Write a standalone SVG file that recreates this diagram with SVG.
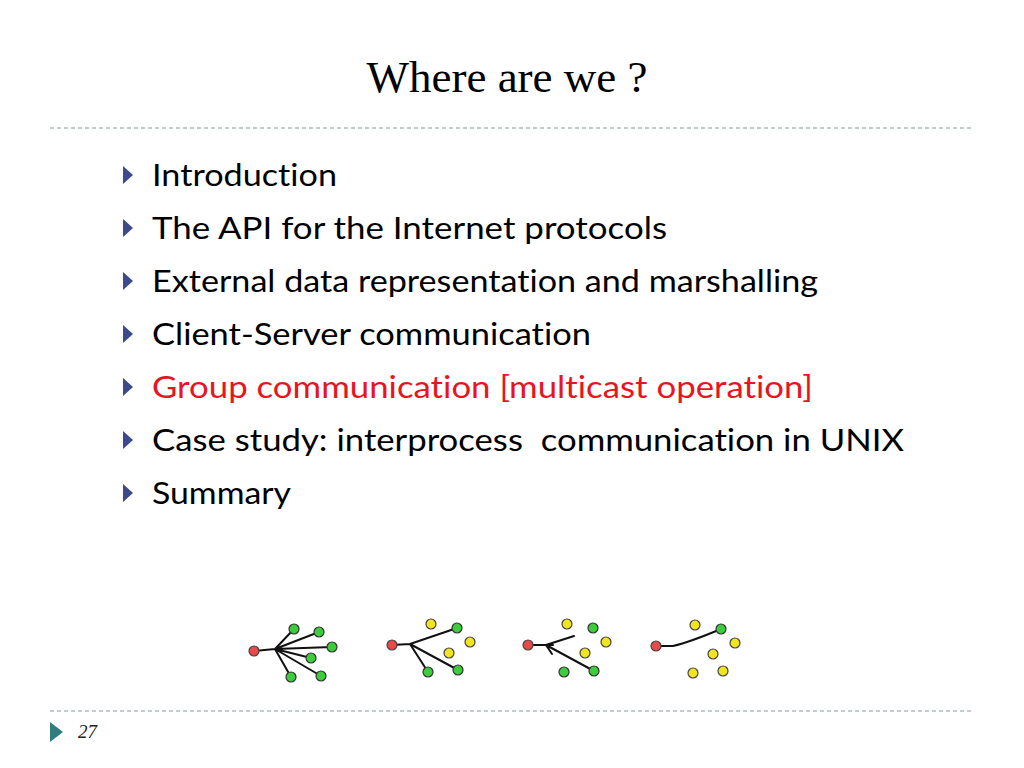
<svg xmlns="http://www.w3.org/2000/svg" width="1024" height="768" viewBox="0 0 1024 768">
<defs>
<style>
.title{font-family:"Liberation Serif","Times New Roman",serif;font-size:45px;fill:#000}
.item{font-family:Lato,"Open Sans",sans-serif;font-size:31px;fill:#000;font-variant-ligatures:none;font-feature-settings:"liga" 0,"clig" 0}
.red{fill:#e8141e}
.bul{fill:#3c4a8c}
.dash{stroke:#7f9f9f;stroke-width:1.2;stroke-dasharray:4 3;fill:none}
.ln{stroke:#111;stroke-width:2;fill:none;stroke-linecap:round}
.r{fill:#e84a4c;stroke:#444;stroke-width:1.2}
.g{fill:#3ccc3c;stroke:#333;stroke-width:1.2}
.y{fill:#f2e51e;stroke:#444;stroke-width:1.2}
.pg{font-family:"Liberation Serif","Times New Roman",serif;font-style:italic;font-size:19px;fill:#222}
</style>
</defs>
<rect width="1024" height="768" fill="#fff"/>
<text class="title" x="507" y="92" text-anchor="middle">Where are we ?</text>
<line class="dash" x1="50" y1="128" x2="972" y2="128"/>
<g id="bullets">
<g id="b1"><polygon class="bul" points="123,166 133,175 123,184"/><text class="item" x="152" y="186" textLength="185" lengthAdjust="spacingAndGlyphs">Introduction</text></g>
<g id="b2"><polygon class="bul" points="123,219 133,228 123,237"/><text class="item" x="152" y="239" textLength="515" lengthAdjust="spacingAndGlyphs">The API for the Internet protocols</text></g>
<g id="b3"><polygon class="bul" points="123,272 133,281 123,290"/><text class="item" x="152" y="292" textLength="666" lengthAdjust="spacingAndGlyphs">External data representation and marshalling</text></g>
<g id="b4"><polygon class="bul" points="123,325 133,334 123,343"/><text class="item" x="152" y="345" textLength="439" lengthAdjust="spacingAndGlyphs">Client-Server communication</text></g>
<g id="b5"><polygon class="bul" points="123,378 133,387 123,396"/><text class="item red" x="152" y="398" textLength="661" lengthAdjust="spacingAndGlyphs">Group communication [multicast operation]</text></g>
<g id="b6"><polygon class="bul" points="123,431 133,440 123,449"/><text class="item" x="152" y="451" textLength="752" lengthAdjust="spacingAndGlyphs" xml:space="preserve">Case study: interprocess  communication in UNIX</text></g>
<g id="b7"><polygon class="bul" points="123,484 133,493 123,502"/><text class="item" x="152" y="504" textLength="139" lengthAdjust="spacingAndGlyphs">Summary</text></g>
</g>
<g id="connectors">
<path class="ln" d="M254,651 L275,649 M275,649 L294,629 M275,649 L319,632 M275,649 L332,647 M275,649 L311,658 M275,649 L321,676 M275,649 L291,677"/>
<path class="ln" d="M392,645 L410,644 M410,644 L457,628 M410,644 L428,672 M410,644 L458,670"/>
<path class="ln" d="M528,645 L546,645 M546,645 L574,636 M546,645 L594,671 M546,645 L553,645 M546,645 L552,654"/>
<path class="ln" d="M656,646 L673,646 Q690,642 721,629"/>
</g>
<g id="d1">
<circle class="r" cx="254" cy="651" r="5"/>
<circle class="g" cx="294" cy="629" r="5"/><circle class="g" cx="319" cy="632" r="5"/><circle class="g" cx="332" cy="647" r="5"/>
<circle class="g" cx="311" cy="658" r="5"/><circle class="g" cx="321" cy="676" r="5"/><circle class="g" cx="291" cy="677" r="5"/>
</g>
<g id="d2">
<circle class="r" cx="392" cy="645" r="5"/>
<circle class="y" cx="431" cy="624" r="5"/><circle class="y" cx="470" cy="642" r="5"/><circle class="y" cx="449" cy="653" r="5"/>
<circle class="g" cx="457" cy="628" r="5"/><circle class="g" cx="428" cy="672" r="5"/><circle class="g" cx="458" cy="670" r="5"/>
</g>
<g id="d3">
<circle class="r" cx="528" cy="645" r="5"/>
<circle class="y" cx="567" cy="624" r="5"/><circle class="y" cx="606" cy="642" r="5"/><circle class="y" cx="585" cy="653" r="5"/>
<circle class="g" cx="593" cy="628" r="5"/><circle class="g" cx="564" cy="672" r="5"/><circle class="g" cx="594" cy="671" r="5"/>
</g>
<g id="d4">
<circle class="r" cx="656" cy="646" r="5"/>
<circle class="g" cx="721" cy="629" r="5"/>
<circle class="y" cx="695" cy="625" r="5"/><circle class="y" cx="735" cy="643" r="5"/><circle class="y" cx="713" cy="654" r="5"/>
<circle class="y" cx="693" cy="673" r="5"/><circle class="y" cx="723" cy="671" r="5"/>
</g>
<line class="dash" x1="50" y1="711" x2="972" y2="711"/>
<polygon points="50,722 63,732 50,742" fill="#2f7f80"/>
<text class="pg" x="78" y="738">27</text>
</svg>
